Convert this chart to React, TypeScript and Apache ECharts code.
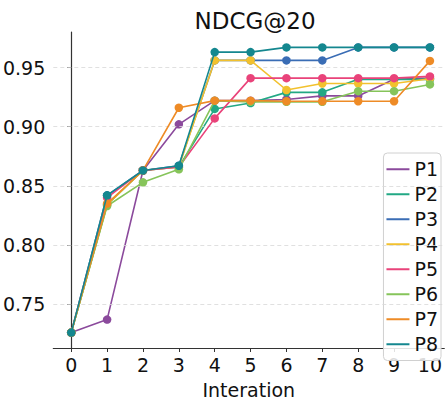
import React, { useEffect, useRef } from "react";
import * as echarts from "echarts";

const iterations = [0, 1, 2, 3, 4, 5, 6, 7, 8, 9, 10];
const yTicks = [0.75, 0.8, 0.85, 0.9, 0.95];
const seriesNames = ["P1", "P2", "P3", "P4", "P5", "P6", "P7", "P8"];
const colors = ["#8b4a9c", "#22a884", "#3a6db5", "#f2c12e", "#e9437a", "#86c45a", "#ee8b26", "#14878f"];

const P1 = [0.726, 0.737, 0.863, 0.902, 0.922, 0.922, 0.923, 0.926, 0.926, 0.94, 0.941];
const P2 = [0.726, 0.834, 0.863, 0.866, 0.915, 0.92, 0.929, 0.929, 0.94, 0.94, 0.94];
const P3 = [0.726, 0.842, 0.863, 0.867, 0.956, 0.956, 0.956, 0.956, 0.967, 0.967, 0.967];
const P4 = [0.726, 0.834, 0.863, 0.866, 0.956, 0.956, 0.931, 0.9365, 0.9365, 0.9365, 0.9405];
const P5 = [0.726, 0.84, 0.863, 0.866, 0.907, 0.941, 0.941, 0.941, 0.941, 0.941, 0.9425];
const P6 = [0.726, 0.833, 0.853, 0.864, 0.922, 0.921, 0.921, 0.921, 0.93, 0.93, 0.9357];
const P7 = [0.726, 0.835, 0.863, 0.916, 0.922, 0.922, 0.9215, 0.9215, 0.9215, 0.9215, 0.9556];
const P8 = [0.726, 0.842, 0.863, 0.867, 0.963, 0.963, 0.967, 0.967, 0.967, 0.967, 0.967];
const allSeries = [P1, P2, P3, P4, P5, P6, P7, P8];

const FONT = "DejaVu Sans";

export default function App() {
  const ref = useRef<HTMLDivElement>(null);
  useEffect(() => {
    if (!ref.current) return;
    const chart = echarts.init(ref.current, null, { renderer: "svg" });
    chart.setOption({
      animation: false,
      backgroundColor: "#ffffff",
      textStyle: { fontFamily: FONT },
      title: {
        text: "NDCG@20",
        left: 250,
        textAlign: "center",
        top: 4,
        textStyle: { fontFamily: FONT, fontSize: 23, fontWeight: "normal", color: "#111" },
      },
      grid: { left: 53, right: 0, top: 32, bottom: 46 },
      legend: {
        orient: "vertical",
        right: 4,
        top: 153,
        data: seriesNames,
        icon: "rect",
        itemWidth: 23,
        itemHeight: 2,
        itemGap: 4.5,
        padding: [6, 3, 6, 3],
        backgroundColor: "rgba(255,255,255,0.85)",
        borderColor: "#d0d0d0",
        borderWidth: 1,
        borderRadius: 4,
        textStyle: { fontFamily: FONT, fontSize: 19, color: "#111", lineHeight: 20.5, padding: [0, 0, 0, 0] },
      },
      xAxis: {
        type: "value",
        min: -0.5,
        max: 10.4,
        name: "Interation",
        nameLocation: "middle",
        nameGap: 32,
        nameTextStyle: { fontFamily: FONT, fontSize: 19, color: "#111" },
        axisLine: { onZero: false, lineStyle: { color: "#333", width: 1.2 } },
        axisTick: { show: true, length: 4, customValues: iterations, lineStyle: { color: "#333" } },
        axisLabel: { customValues: iterations, fontFamily: FONT, fontSize: 19, color: "#111", margin: 7 },
        splitLine: { show: false },
      },
      yAxis: {
        type: "value",
        min: 0.713,
        max: 0.98,
        axisLine: { show: true, onZero: true, lineStyle: { color: "#333", width: 1.2 } },
        axisTick: { show: true, length: 4, customValues: yTicks, lineStyle: { color: "#333" } },
        axisLabel: {
          customValues: yTicks,
          fontFamily: FONT,
          fontSize: 19,
          color: "#111",
          margin: 8,
          formatter: (v: number) => v.toFixed(2),
        },
        splitLine: { show: false },
      },
      series: [
        {
          type: "line",
          name: "_grid",
          data: [],
          silent: true,
          markLine: {
            silent: true,
            symbol: "none",
            label: { show: false },
            lineStyle: { color: "#d8d8d8", type: [4, 3], width: 0.8 },
            data: yTicks.map((v) => ({ yAxis: v })),
          },
          z: 0,
        },
        ...seriesNames.map((name, i) => ({
          type: "line",
          name,
          data: iterations.map((x, j) => [x, allSeries[i][j]]),
          color: colors[i],
          symbol: "circle",
          symbolSize: 8.5,
          showAllSymbol: true,
          lineStyle: { width: 1.6, color: colors[i] },
          itemStyle: { color: colors[i] },
          z: 2 + i,
        })),
      ],
    });
    return () => chart.dispose();
  }, []);
  return <div ref={ref} style={{ width: 445, height: 404, position: "absolute", left: 0, top: 0 }} />;
}
